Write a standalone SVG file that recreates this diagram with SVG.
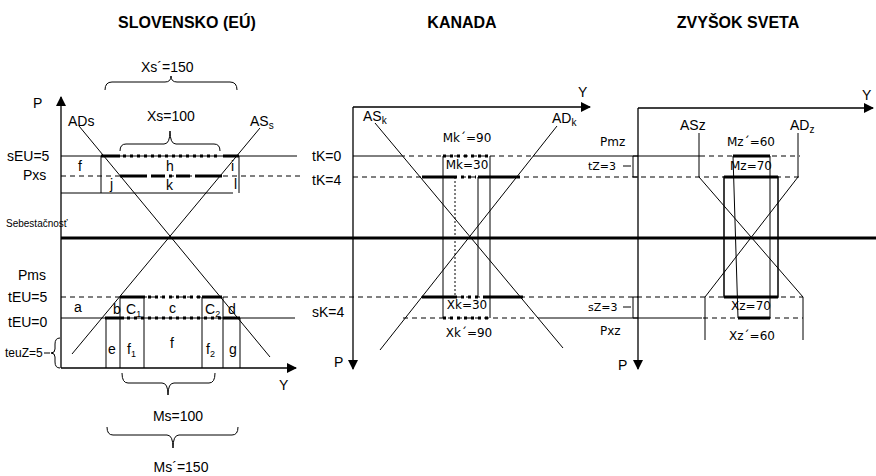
<svg xmlns="http://www.w3.org/2000/svg" width="876" height="476" viewBox="0 0 876 476">
<defs>
<marker id="ah" viewBox="0 0 10 10" refX="9" refY="5" markerWidth="10" markerHeight="10" markerUnits="userSpaceOnUse" orient="auto"><path d="M0,0 L10,5 L0,10 z" fill="#000"/></marker>
<style>
.l{stroke:#000;stroke-width:1;fill:none}
.ax{stroke:#000;stroke-width:1.3;fill:none;marker-end:url(#ah)}
.ds{stroke:#000;stroke-width:1;stroke-dasharray:5,4;fill:none}
.tk{stroke:#000;stroke-width:3;fill:none}
.dt{stroke:#000;stroke-width:3;stroke-dasharray:3,4;fill:none}
.dd{stroke:#000;stroke-width:3;stroke-dasharray:14,4,3,4;fill:none}
.vd{stroke:#000;stroke-width:1;stroke-dasharray:2,2;fill:none}
text{font-family:"Liberation Sans",Arial,sans-serif;font-size:14px;fill:#000}
.ti{font-weight:bold;font-size:16px}
.s{font-family:"DejaVu Sans",sans-serif;font-size:12px}
.xs{font-size:11px}
.f9{font-size:10px}
.f12{font-size:12px}
.sub{font-size:10px}
.sub9{font-size:9px}
</style>
</defs>
<rect width="876" height="476" fill="#fff"/>
<g id="titles">
<text class="ti" x="187" y="28" text-anchor="middle">SLOVENSKO (EÚ)</text>
<text class="ti" x="462" y="28" text-anchor="middle">KANADA</text>
<text class="ti" x="738" y="28" text-anchor="middle">ZVYŠOK SVETA</text>
</g>
<g id="connectors">
<line class="tk" x1="61" y1="238" x2="876" y2="238"/>
<line class="ax" x1="61" y1="368" x2="61" y2="97"/>
<line class="ax" x1="61" y1="368" x2="296" y2="368"/>
<line class="l" x1="61" y1="156" x2="297" y2="156"/>
<line class="ds" x1="61" y1="176" x2="300" y2="176"/>
<line class="l" x1="61" y1="193" x2="233" y2="193"/>
<line class="ds" x1="61" y1="297" x2="803" y2="297"/>
<line class="l" x1="61" y1="318" x2="295" y2="318"/>
<line class="tk" x1="101" y1="156" x2="120" y2="156"/>
<line class="dt" x1="123" y1="156" x2="221" y2="156"/>
<line class="tk" x1="223" y1="156" x2="239" y2="156"/>
<line class="tk" x1="120" y1="176" x2="147" y2="176"/>
<line class="dd" x1="151" y1="176" x2="193" y2="176"/>
<line class="tk" x1="195" y1="176" x2="222" y2="176"/>
<line class="l" x1="101" y1="156" x2="101" y2="193"/>
<line class="l" x1="239" y1="156" x2="239" y2="193"/>
<line class="tk" x1="120" y1="297" x2="145" y2="297"/>
<line class="dt" x1="148" y1="297" x2="201" y2="297"/>
<line class="tk" x1="202" y1="297" x2="222" y2="297"/>
<line class="tk" x1="105" y1="318" x2="124" y2="318"/>
<line class="dt" x1="127" y1="318" x2="222" y2="318"/>
<line class="tk" x1="223" y1="318" x2="240" y2="318"/>
<line class="l" x1="106" y1="318" x2="106" y2="368"/>
<line class="l" x1="120" y1="297" x2="120" y2="368"/>
<line class="l" x1="144" y1="297" x2="144" y2="368"/>
<line class="l" x1="202" y1="297" x2="202" y2="368"/>
<line class="l" x1="223" y1="297" x2="223" y2="368"/>
<line class="l" x1="240" y1="318" x2="240" y2="368"/>
<line class="l" x1="79" y1="126" x2="270" y2="357"/>
<line class="l" x1="260" y1="128" x2="72" y2="354"/>
<path class="l" d="M105,90 Q105,82 112,82 L165,82 Q171,82 171,76 Q171,82 177,82 L230,82 Q237,82 237,90"/>
<path class="l" d="M120,151 Q120,144 126,144 L164,144 Q170,144 170,131 Q170,144 176,144 L214,144 Q220,144 220,151"/>
<path class="l" d="M122,373 Q122,383 128,383 L162,383 Q168,383 168,395 Q168,383 174,383 L209,383 Q215,383 215,373"/>
<path class="l" d="M107,427 Q107,435 113,435 L167,435 Q173,435 173,448 Q173,435 179,435 L232,435 Q238,435 238,427"/>
<path class="l" d="M60,338 Q55,338 55,344 L55,349 Q55,353 51,353 Q55,353 55,357 L55,362 Q55,368 60,368"/>
<line class="l" x1="44" y1="353" x2="50" y2="353"/>
<line class="ax" x1="353" y1="107" x2="590" y2="107"/>
<line class="ax" x1="353" y1="107" x2="353" y2="369"/>
<line class="l" x1="353" y1="156" x2="400" y2="156"/>
<line class="ds" x1="400" y1="156" x2="533" y2="156"/>
<line class="l" x1="533" y1="156" x2="700" y2="156"/>
<line class="ds" x1="700" y1="156" x2="800" y2="156"/>
<line class="ds" x1="353" y1="177" x2="800" y2="177"/>
<line class="ds" x1="403" y1="318" x2="540" y2="318"/>
<line class="l" x1="540" y1="318" x2="702" y2="318"/>
<line class="ds" x1="703" y1="318" x2="803" y2="318"/>
<line class="dt" x1="443" y1="156" x2="491" y2="156"/>
<line class="tk" x1="422" y1="177" x2="457" y2="177"/>
<line class="dt" x1="461" y1="177" x2="476" y2="177"/>
<line class="tk" x1="478" y1="177" x2="520" y2="177"/>
<line class="tk" x1="422" y1="297" x2="457" y2="297"/>
<line class="dt" x1="461" y1="297" x2="481" y2="297"/>
<line class="tk" x1="483" y1="297" x2="523" y2="297"/>
<line class="dt" x1="443" y1="318" x2="491" y2="318"/>
<line class="l" x1="443" y1="156" x2="443" y2="318"/>
<line class="l" x1="490" y1="156" x2="490" y2="318"/>
<line class="vd" x1="455" y1="177" x2="455" y2="297"/>
<line class="l" x1="478" y1="177" x2="478" y2="297"/>
<line class="l" x1="375" y1="123" x2="563" y2="348"/>
<line class="l" x1="557" y1="126" x2="380" y2="350"/>
<line class="ax" x1="638" y1="108" x2="873" y2="108"/>
<line class="ax" x1="638" y1="108" x2="638" y2="369"/>
<path class="l" d="M638,156 L633,156 L633,177 L638,177"/>
<line class="l" x1="623" y1="166" x2="631" y2="166"/>
<path class="l" d="M638,297 L633,297 L633,318 L638,318"/>
<line class="l" x1="623" y1="307" x2="631" y2="307"/>
<polyline class="l" points="699,133 699,177 803,297 803,340"/>
<polyline class="l" points="798,133 798,177 705,297 705,340"/>
<rect x="724" y="177" width="54" height="120" fill="none" stroke="#000" stroke-width="1.5"/>
<line class="tk" x1="724" y1="177" x2="778" y2="177"/>
<line class="tk" x1="724" y1="297" x2="778" y2="297"/>
<line class="tk" x1="733" y1="156" x2="770" y2="156"/>
<line class="tk" x1="738" y1="318" x2="770" y2="318"/>
<line class="l" x1="733" y1="156" x2="738" y2="318"/>
<line class="l" x1="770" y1="156" x2="770" y2="318"/>
</g>
<g id="labels-left">
<text x="33" y="108">P</text>
<text x="68" y="126">ADs</text>
<text x="147" y="121">Xs=100</text>
<text x="141" y="72">Xs´=150</text>
<text x="250" y="126">AS<tspan class="sub" dy="3">s</tspan></text>
<text x="7" y="161">sEU=5</text>
<text x="23" y="180">Pxs</text>
<text x="78" y="171">f</text>
<text x="166" y="171">h</text>
<text x="231" y="171">i</text>
<text x="110" y="189">j</text>
<text x="166" y="190">k</text>
<text x="234" y="189">l</text>
<text class="f9" x="6" y="227">Sebestačnosť</text>
<text x="18" y="280">Pms</text>
<text x="8" y="302">tEU=5</text>
<text x="8" y="327">tEU=0</text>
<text class="f12" x="5" y="357">teuZ=5</text>
<text x="74" y="312">a</text>
<text x="113" y="314">b</text>
<text x="126" y="314">C<tspan class="sub9" dy="3">1</tspan></text>
<text x="169" y="313">c</text>
<text x="205" y="314">C<tspan class="sub9" dy="3">2</tspan></text>
<text x="228" y="314">d</text>
<text x="108" y="354">e</text>
<text x="127" y="354">f<tspan class="sub9" dy="3">1</tspan></text>
<text x="170" y="348">f</text>
<text x="206" y="354">f<tspan class="sub9" dy="3">2</tspan></text>
<text x="229" y="354">g</text>
<text x="279" y="390">Y</text>
<text x="178" y="421" text-anchor="middle">Ms=100</text>
<text x="181" y="472" text-anchor="middle">Ms´=150</text>
</g>
<g id="labels-kanada">
<text x="312" y="161">tK=0</text>
<text x="312" y="185">tK=4</text>
<text x="312" y="317">sK=4</text>
<text x="334" y="367">P</text>
<text x="578" y="97">Y</text>
<text x="363" y="121">AS<tspan class="sub" dy="3">k</tspan></text>
<text x="552" y="123">AD<tspan class="sub" dy="3">k</tspan></text>
<text class="s" x="467" y="142" text-anchor="middle">Mk´=90</text>
<text class="s" x="467" y="169" text-anchor="middle">Mk=30</text>
<text class="s" x="467" y="309" text-anchor="middle">Xk=30</text>
<text class="s" x="469" y="337" text-anchor="middle">Xk´=90</text>
</g>
<g id="labels-zvysok">
<text class="s" x="600" y="146">Pmz</text>
<text class="s xs" x="588" y="170">tZ=3</text>
<text class="s xs" x="588" y="311">sZ=3</text>
<text class="s" x="600" y="335">Pxz</text>
<text x="618" y="370">P</text>
<text x="862" y="100">Y</text>
<text x="680" y="130">ASz</text>
<text x="790" y="130">AD<tspan class="sub" dy="3">z</tspan></text>
<text class="s" x="751" y="146" text-anchor="middle">Mz´=60</text>
<text class="s" x="751" y="170" text-anchor="middle">Mz=70</text>
<text class="s" x="751" y="310" text-anchor="middle">Xz=70</text>
<text class="s" x="752" y="340" text-anchor="middle">Xz´=60</text>
</g>
</svg>
